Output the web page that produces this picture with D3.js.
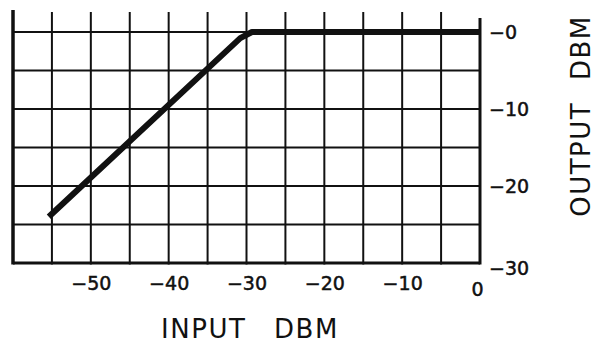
<!DOCTYPE html>
<html>
    <head>
        <script src="https://cdn.jsdelivr.net/npm/d3@7"></script>
        <style>
            body { margin:0; background:#fff; }
            svg { display:block; }
            .tick text { font-family:"DejaVu Sans", sans-serif; font-size:19px; fill:#111; stroke:#111; stroke-width:0.5px; }
            .title { font-family:"DejaVu Sans", sans-serif; font-size:26px; fill:#111; letter-spacing:1.5px; }
        </style>
    </head>
    <body>
        <svg id="chart" width="597" height="343"></svg>
        <script>
            // curve (input dBm -> output dBm)
            var inputDbm  = [-55.4, -30.8, -29.3, 0];
            var outputDbm = [-24,   -0.8,   0,    0];

            var xTicks = [-50, -40, -30, -20, -10, 0];
            var yTicks = [0, -10, -20, -30];
            var gridStep = 5;

            var svg = d3.select("#chart");
            var x = d3.scaleLinear().domain([-60, 0]).range([13, 480]);
            var y = d3.scaleLinear().domain([-30, 0]).range([263, 32]);

            var xGrid = d3.range(-60, 0.1, gridStep);
            var yGrid = d3.range(-30, 0.1, gridStep);

            // vertical grid lines run above the top line
            svg.append("g").selectAll("line")
                .data(xGrid)
                .enter().append("line")
                .attr("x1", function(d){ return x(d); })
                .attr("x2", function(d){ return x(d); })
                .attr("y1", function(d){ return d == -60 ? 10 : (d == 0 ? 18 : 12); })
                .attr("y2", y(-30) + 1.5)
                .attr("stroke", "#111")
                .attr("stroke-width", function(d){ return d == -60 ? 3.5 : (d == 0 ? 3 : 2); });

            svg.append("g").selectAll("line")
                .data(yGrid)
                .enter().append("line")
                .attr("x1", x(-60))
                .attr("x2", x(0))
                .attr("y1", function(d){ return y(d); })
                .attr("y2", function(d){ return y(d); })
                .attr("stroke", "#111")
                .attr("stroke-width", function(d){ return d == -30 ? 3 : 2; });

            // the transfer curve
            var pts = inputDbm.map(function(d, i){ return [d, outputDbm[i]]; });
            var line = d3.line()
                .x(function(d){ return x(d[0]); })
                .y(function(d){ return y(d[1]); });
            svg.append("path")
                .datum(pts)
                .attr("d", line)
                .attr("fill", "none")
                .attr("stroke", "#111")
                .attr("stroke-width", 6)
                .attr("stroke-linejoin", "round");

            // bottom labels
            var xAxis = svg.append("g")
                .attr("transform", "translate(0," + (y(-30) + 10) + ")")
                .call(d3.axisBottom(x).tickValues(xTicks).tickSize(0)
                    .tickFormat(function(d){ return d == 0 ? "0" : "\u2212" + Math.abs(d); }));
            xAxis.select(".domain").remove();
            xAxis.selectAll(".tick").filter(function(d){ return d == 0; })
                .select("text").attr("dy", "1.05em").attr("dx", -3);

            // right labels (tick dash drawn as part of the label)
            var yAxis = svg.append("g")
                .attr("transform", "translate(" + (x(0) + 9) + ",0)")
                .call(d3.axisRight(y).tickValues(yTicks).tickSize(0).tickPadding(0)
                    .tickFormat(function(d){ return "\u2212" + Math.abs(d); }));
            yAxis.select(".domain").remove();
            yAxis.selectAll(".tick").filter(function(d){ return d == -30; })
                .select("text").attr("dy", "0.6em");

            svg.append("text")
                .attr("class", "title")
                .attr("x", 250)
                .attr("y", 338)
                .attr("text-anchor", "middle")
                .attr("word-spacing", 18)
                .text("INPUT DBM");

            svg.append("text")
                .attr("class", "title")
                .attr("transform", "translate(590,116) rotate(-90)")
                .attr("text-anchor", "middle")
                .attr("word-spacing", 12)
                .text("OUTPUT DBM");
        </script>
    </body>
</html>
